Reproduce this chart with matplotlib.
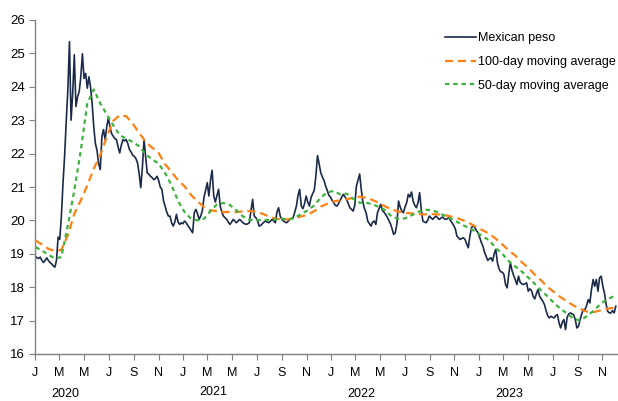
import matplotlib
matplotlib.use("Agg")
import matplotlib.pyplot as plt
import matplotlib.transforms as mtransforms
import pandas as pd

plt.rcParams['font.family'] = ['Liberation Sans', 'DejaVu Sans']

# ---- data ----
peso_start = "2020-01-02"
peso_step_days = 4
peso = [
 18.93, 18.88, 18.86, 18.9, 18.8, 18.74, 18.8, 18.88, 18.8, 18.74,
 18.7, 18.64, 18.6, 18.8, 19.5, 19.43, 20.1, 21.1, 21.92, 22.95,
 23.9, 25.35, 23.0, 23.81, 24.96, 23.41, 23.7, 23.85, 24.3, 24.99,
 24.25, 24.4, 23.96, 24.3, 24.0, 23.5, 22.8, 22.3, 22.1, 21.7,
 21.52, 22.5, 22.72, 22.42, 22.8, 23.07, 22.8, 22.6, 22.52, 22.45,
 22.42, 22.2, 22.02, 22.25, 22.42, 22.38, 22.42, 22.3, 22.12, 22.05,
 21.95, 21.92, 21.85, 21.72, 21.4, 20.98, 21.6, 22.42, 21.9, 21.42,
 21.38, 21.32, 21.28, 21.22, 21.25, 21.32, 21.2, 21.0, 20.93, 20.6,
 20.43, 20.25, 20.13, 20.13, 19.93, 19.83, 19.95, 20.18, 19.95, 19.88,
 19.93, 19.9, 19.98, 19.93, 19.85, 19.78, 19.7, 19.63, 20.23, 20.33,
 20.2, 20.03, 20.13, 20.3, 20.7, 20.9, 21.13, 20.73, 21.2, 21.5,
 20.73, 20.55, 20.75, 20.93, 20.43, 20.25, 20.13, 20.08, 20.03, 19.95,
 19.88, 19.95, 20.03, 19.98, 19.93, 19.98, 20.03, 19.98, 19.93, 19.9,
 19.88, 19.9, 19.93, 20.3, 20.63, 20.13, 20.08, 20.0, 19.83, 19.85,
 19.9, 19.95, 19.98, 19.95, 19.93, 19.98, 20.03, 19.98, 19.93, 20.25,
 20.38, 20.13, 20.03, 19.98, 19.95, 19.93, 19.98, 20.03, 20.05, 20.08,
 20.25, 20.43, 20.75, 20.93, 20.43, 20.35, 20.5, 20.73, 20.55, 20.43,
 20.68, 20.8, 20.9, 21.33, 21.94, 21.7, 21.43, 21.3, 21.2, 21.03,
 20.9, 20.75, 20.7, 20.6, 20.53, 20.45, 20.43, 20.5, 20.6, 20.7,
 20.78, 20.7, 20.63, 20.5, 20.38, 20.33, 20.28, 20.45, 21.03, 21.2,
 21.39, 20.93, 20.55, 20.35, 20.23, 19.98, 19.9, 19.83, 19.95, 19.98,
 19.88, 20.23, 20.35, 20.48, 20.3, 20.25, 20.18, 20.1, 20.0, 19.9,
 19.75, 19.58, 19.63, 19.9, 20.58, 20.4, 20.28, 20.23, 20.4, 20.53,
 20.78, 20.7, 20.85, 20.58, 20.45, 20.38, 20.53, 20.83, 20.33, 19.98,
 19.95, 19.93, 20.0, 20.13, 20.08, 20.03, 20.08, 20.13, 20.08, 20.03,
 20.06, 20.1, 20.06, 20.03, 20.05, 20.08, 20.0, 19.93, 19.85, 19.75,
 19.53, 19.48, 19.43, 19.46, 19.48, 19.43, 19.3, 19.18, 19.53, 19.78,
 19.85, 19.78, 19.7, 19.63, 19.5, 19.35, 19.23, 19.05, 18.93, 18.8,
 18.85, 18.88, 18.78, 19.0, 19.13, 18.73, 18.55, 18.46, 18.45, 18.38,
 18.08, 17.98, 18.4, 18.73, 18.5, 18.35, 18.23, 18.08, 18.33, 18.15,
 18.1, 18.08, 18.1, 18.13, 17.88, 17.95, 17.9, 17.73, 17.65, 17.8,
 17.93, 17.73, 17.65, 17.58, 17.48, 17.3, 17.15, 17.08, 17.13, 17.1,
 17.08, 17.15, 17.18, 16.93, 16.78, 16.95, 17.03, 16.73, 17.1, 17.2,
 17.23, 17.2, 17.18, 17.03, 16.78, 16.83, 17.03, 17.2, 17.33, 17.33,
 17.45, 17.63, 17.53, 17.93, 18.23, 18.03, 18.23, 17.88, 18.28, 18.33,
 18.03, 17.83, 17.5, 17.28, 17.23, 17.23, 17.3, 17.23, 17.43,
]

# moving averages sampled every 4th peso date, plus the last date
ma100 = [
 19.4, 19.28, 19.15, 19.08, 19.12, 19.55, 20.2, 20.6, 21.05, 21.55,
 21.95, 22.5, 22.98, 23.15, 23.12, 22.9, 22.62, 22.35, 22.18, 22.02,
 21.68, 21.45, 21.2, 21.02, 20.76, 20.57, 20.4, 20.3, 20.28, 20.25,
 20.25, 20.25, 20.27, 20.28, 20.26, 20.2, 20.12, 20.05, 20.03, 20.03,
 20.07, 20.12, 20.17, 20.28, 20.41, 20.5, 20.57, 20.6, 20.64, 20.67,
 20.71, 20.68, 20.61, 20.52, 20.41, 20.33, 20.26, 20.23, 20.21, 20.19,
 20.18, 20.19, 20.18, 20.16, 20.12, 20.07, 20.0, 19.91, 19.8, 19.7,
 19.6, 19.45, 19.28, 19.1, 18.95, 18.75, 18.58, 18.38, 18.2, 18.0,
 17.85, 17.7, 17.57, 17.45, 17.35, 17.27, 17.25, 17.3, 17.35, 17.38,
 17.42,
]
ma50 = [
 19.2, 19.1, 18.97, 18.86, 18.9, 19.85, 20.9, 22.1, 23.5, 23.92,
 23.5, 23.18, 22.85, 22.55, 22.45, 22.35, 22.22, 21.98, 21.83, 21.7,
 21.42, 21.05, 20.58, 20.25, 20.05, 20.0, 20.05, 20.28, 20.48, 20.52,
 20.46, 20.3, 20.12, 20.02, 20.0, 20.02, 20.01, 20.03, 20.05, 20.03,
 20.07, 20.2, 20.3, 20.45, 20.68, 20.84, 20.88, 20.78, 20.8, 20.65,
 20.53, 20.53, 20.48, 20.4, 20.3, 20.1, 20.05, 20.06, 20.15, 20.25,
 20.32, 20.31, 20.25, 20.15, 20.06, 19.96, 19.85, 19.76, 19.65, 19.52,
 19.4, 19.17, 19.0, 18.78, 18.62, 18.47, 18.29, 18.1, 17.9, 17.72,
 17.52, 17.35, 17.21, 17.06, 17.0, 17.13, 17.28, 17.47, 17.62, 17.71,
 17.74,
]

series_labels = ["Mexican peso", "100-day moving average", "50-day moving average"]
month_letters = ["J", "M", "M", "J", "S", "N"]
years = [2020, 2021, 2022, 2023]

peso_dates = pd.date_range(peso_start, periods=len(peso), freq=f"{peso_step_days}D")
ma_dates = list(peso_dates[::4]) + [peso_dates[-1]]

# ---- figure ----
fig = plt.figure(figsize=(6.18, 4.01), dpi=100)
ax = fig.add_axes([35 / 618, 1 - 354 / 401, (617 - 35) / 618, (354 - 20) / 401])

navy = "#1b2a49"
orange = "#ff8114"
green = "#3db33d"

ax.plot(peso_dates, peso, color=navy, lw=1.2, label=series_labels[0], zorder=2)
l100, = ax.plot(ma_dates, ma100, color=orange, lw=1.6, label=series_labels[1], zorder=3)
l100.set_dashes((3.6, 2.2))
l50, = ax.plot(ma_dates, ma50, color=green, lw=1.6, label=series_labels[2], zorder=3)
l50.set_dashes((2.0, 1.7))

ax.set_ylim(16, 26)
ax.set_yticks(range(16, 27))
ax.set_xlim(pd.Timestamp("2020-01-01"), pd.Timestamp("2023-12-07"))

tick_dates = []
tick_labels = []
for y in years:
    for m, lab in zip([1, 3, 5, 7, 9, 11], month_letters):
        tick_dates.append(pd.Timestamp(year=y, month=m, day=1))
        tick_labels.append(lab)
ax.set_xticks(tick_dates)
ax.set_xticklabels(tick_labels)

for side in ["top", "right"]:
    ax.spines[side].set_visible(False)
for side in ["left", "bottom"]:
    ax.spines[side].set_color("#808080")
    ax.spines[side].set_linewidth(1.0)

ax.tick_params(axis="y", direction="out", length=4, width=0.8, color="#808080",
               labelsize=9.5, labelcolor="#000000", pad=3)
ax.tick_params(axis="x", direction="out", length=4, width=0.8, color="#808080",
               labelsize=9, labelcolor="#000000", pad=5)

trans = mtransforms.blended_transform_factory(ax.transData, ax.transAxes)
year_y = [-0.12, -0.113, -0.12, -0.12]
for y, yy in zip(years, year_y):
    ax.text(pd.Timestamp(year=y, month=3, day=17), yy, str(y), transform=trans,
            ha="center", va="center", fontsize=9, color="#000000")

leg = ax.legend(loc="upper left", bbox_to_anchor=(445 / 618, 1 - 32 / 401),
                bbox_transform=fig.transFigure, frameon=False, fontsize=9,
                handlelength=2.5, handletextpad=0.1, labelspacing=0.95,
                borderpad=0, borderaxespad=0)

fig.savefig("out.png", dpi=100)
